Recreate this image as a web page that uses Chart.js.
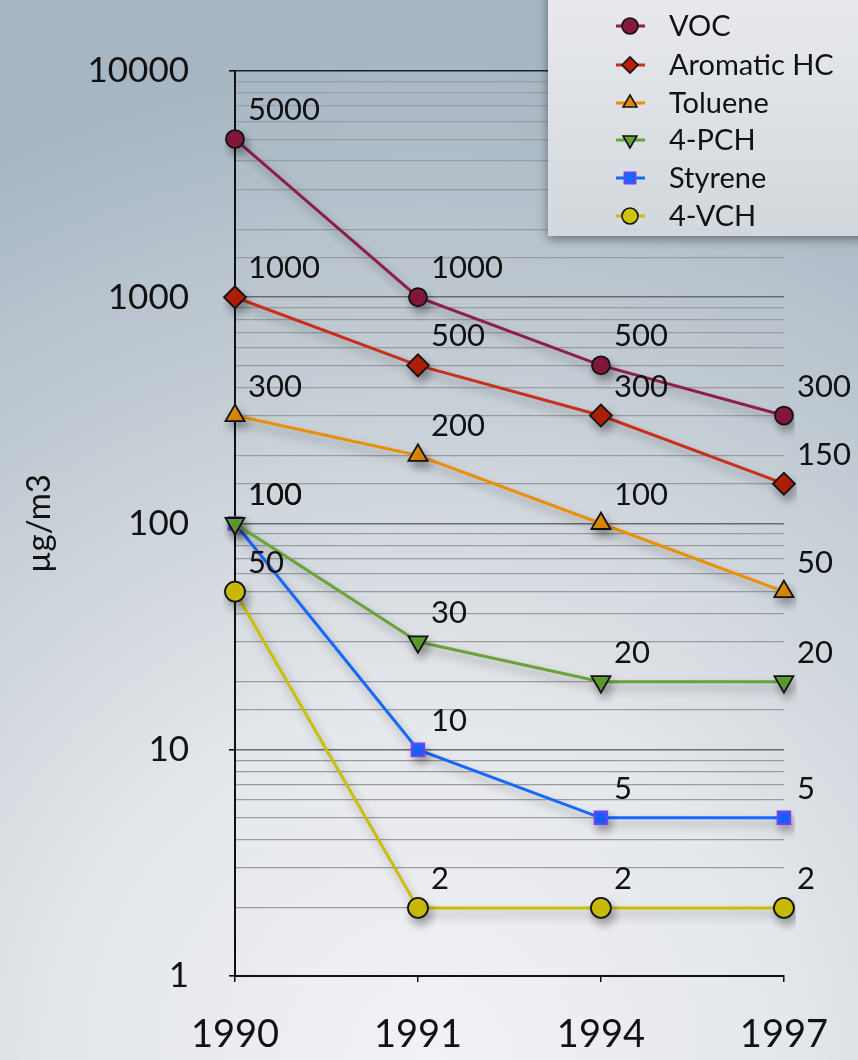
<!DOCTYPE html>
<html>
<head>
<meta charset="utf-8">
<script src="https://cdn.jsdelivr.net/npm/chart.js@4.4.1/dist/chart.umd.min.js"></script>
<style>
  html, body {
    margin: 0;
    padding: 0;
    width: 858px;
    height: 1060px;
    overflow: hidden;
  }
  body {
    background: radial-gradient(ellipse 120% 95% at 50% 100%, #f1f2f5 0%, #e4e7eb 35%, #c3ccd4 70%, #a6b6c3 100%);
  }
  #wrap {
    position: relative;
    width: 858px;
    height: 1060px;
  }
</style>
</head>
<body>
<div id="wrap"><canvas id="chart" width="858" height="1060"></canvas></div>
<script>
// categories and values
const years = ["1990", "1991", "1994", "1997"];
const vocValues = [5000, 1000, 500, 300];
const aromaticValues = [1000, 500, 300, 150];
const tolueneValues = [300, 200, 100, 50];
const pchValues = [100, 30, 20, 20];
const styreneValues = [100, 10, 5, 5];
const vchValues = [50, 2, 2, 2];

const FONT = "Lato, 'Open Sans', sans-serif";

function isPow10(v) {
  const l = Math.log10(v);
  return Math.abs(l - Math.round(l)) < 1e-9;
}

function makeSet(label, data, line, fill, border, style, radius) {
  return {
    label: label,
    data: data,
    borderColor: line,
    backgroundColor: fill,
    pointBackgroundColor: fill,
    pointBorderColor: border,
    pointBorderWidth: 1.8,
    pointStyle: style,
    pointRadius: radius,
    borderWidth: 3,
    tension: 0,
    fill: false,
  };
}

const datasets = [
  makeSet("VOC", vocValues, "#8e1f4b", "#87193f", "#111", "circle", 9),
  makeSet("Aromatic HC", aromaticValues, "#c8301c", "#b71f08", "#111", "rectRot", 11),
  makeSet("Toluene", tolueneValues, "#ea8f00", "#e38c00", "#111", "triangle", 11),
  makeSet("4-PCH", pchValues, "#6aa33b", "#62a132", "#111", "triangle", 11),
  makeSet("Styrene", styreneValues, "#1768ff", "#1566ff", "#7b3cff", "rect", 9),
  makeSet("4-VCH", vchValues, "#cabf00", "#cfc300", "#111", "circle", 10),
];
// 4-PCH uses a downward triangle
datasets[3].pointRotation = 180;

// soft drop shadow, set per dataset
const shadowPlugin = {
  id: "shadow",
  beforeDatasetDraw(chart) {
    const ctx = chart.ctx;
    ctx.save();
    ctx.shadowColor = "rgba(0,0,0,0.32)";
    ctx.shadowBlur = 10;
    ctx.shadowOffsetX = 3;
    ctx.shadowOffsetY = 6;
  },
  afterDatasetDraw(chart) {
    chart.ctx.restore();
  },
};

// value labels up and right of each point
const valueLabels = {
  id: "valueLabels",
  afterDatasetsDraw(chart) {
    const ctx = chart.ctx;
    ctx.save();
    ctx.font = "31px " + FONT;
    ctx.fillStyle = "#111";
    ctx.textAlign = "left";
    ctx.textBaseline = "middle";
    chart.data.datasets.forEach((ds, i) => {
      const meta = chart.getDatasetMeta(i);
      meta.data.forEach((pt, j) => {
        ctx.fillText(String(ds.data[j]), pt.x + 13, pt.y - 29);
      });
    });
    ctx.restore();
  },
};

// legend box in the top right corner
const boxLegend = {
  id: "boxLegend",
  afterDraw(chart) {
    const ctx = chart.ctx;
    const x0 = 548, y0 = 0, w = 320, h = 236;
    ctx.save();
    ctx.shadowColor = "rgba(0,0,0,0.45)";
    ctx.shadowBlur = 10;
    ctx.shadowOffsetX = 0;
    ctx.shadowOffsetY = 3;
    const g = ctx.createLinearGradient(0, y0, 0, y0 + h);
    g.addColorStop(0, "rgba(236,238,241,0.96)");
    g.addColorStop(1, "rgba(214,219,224,0.96)");
    ctx.fillStyle = g;
    ctx.fillRect(x0, y0 - 10, w, h + 10);
    ctx.restore();

    ctx.save();
    ctx.font = "29px " + FONT;
    ctx.textBaseline = "middle";
    ctx.textAlign = "left";
    const rowY = [26, 65, 103, 140, 178, 216];
    chart.data.datasets.forEach((ds, i) => {
      const y = rowY[i];
      ctx.strokeStyle = ds.borderColor;
      ctx.lineWidth = 3;
      ctx.beginPath();
      ctx.moveTo(616, y);
      ctx.lineTo(645, y);
      ctx.stroke();
      ctx.fillStyle = ds.pointBackgroundColor;
      ctx.strokeStyle = ds.pointBorderColor;
      ctx.lineWidth = 1.6;
      Chart.helpers.drawPoint(ctx, {
        pointStyle: ds.pointStyle,
        radius: 8,
        rotation: ds.pointRotation || 0,
        borderWidth: 1.6,
      }, 630, y);
      ctx.fillStyle = "#111";
      ctx.fillText(ds.label, 669, y + 1);
    });
    ctx.restore();
  },
};

const ctx = document.getElementById("chart").getContext("2d");
new Chart(ctx, {
  type: "line",
  data: { labels: years, datasets: datasets },
  plugins: [shadowPlugin, valueLabels, boxLegend],
  options: {
    responsive: false,
    animation: false,
    layout: { padding: { top: 71, right: 72, left: 0, bottom: 0 } },
    plugins: {
      legend: { display: false },
      tooltip: { enabled: false },
    },
    scales: {
      x: {
        offset: false,
        afterFit(scale) { scale.height = 84; },
        grid: {
          display: true,
          drawOnChartArea: false,
          drawTicks: true,
          tickLength: 6,
          color: "rgba(0,0,0,0)",
          tickColor: "#111",
          lineWidth: 1.5,
        },
        border: { display: true, color: "#111", width: 2 },
        ticks: {
          color: "#111",
          font: { family: FONT, size: 38 },
          padding: 30,
          maxRotation: 0,
        },
      },
      y: {
        type: "logarithmic",
        min: 1,
        max: 10000,
        afterFit(scale) { scale.width = 235; },
        title: {
          display: true,
          text: "µg/m3",
          color: "#111",
          font: { family: FONT, size: 33 },
          padding: { top: 20, bottom: 0 },
        },
        grid: {
          color: (c) => (c.tick && isPow10(c.tick.value) ? (c.tick.value === 10000 ? "#222" : "#6b6b6b") : "#9a9c9e"),
          lineWidth: (c) => (c.tick && isPow10(c.tick.value) ? 1.6 : 1.2),
          tickColor: (c) => (c.tick && isPow10(c.tick.value) ? "#111" : "rgba(0,0,0,0)"),
          tickLength: 6,
        },
        border: { display: true, color: "#111", width: 2 },
        ticks: {
          autoSkip: false,
          color: "#111",
          font: { family: FONT, size: 35 },
          padding: 40,
          callback: (v) => (isPow10(v) ? String(Math.round(v)) : ""),
        },
      },
    },
  },
});
</script>
</body>
</html>
